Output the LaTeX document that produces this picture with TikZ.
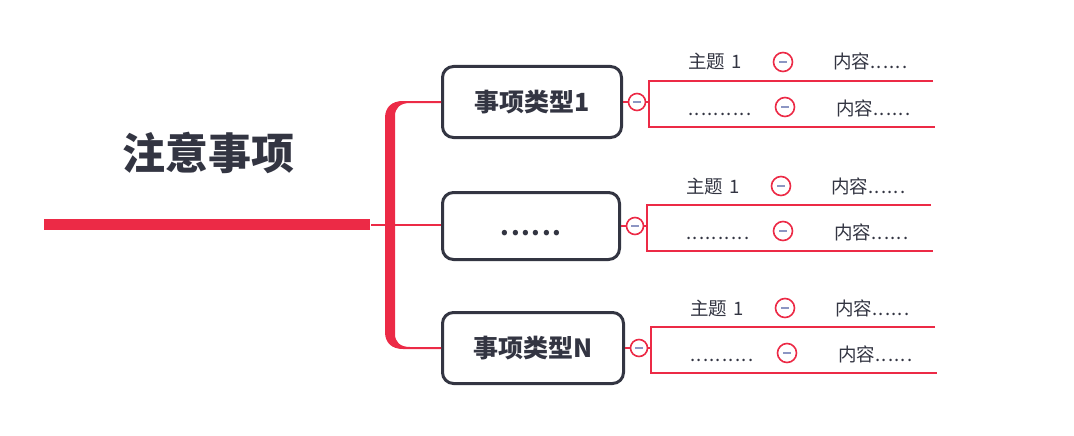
\documentclass[tikz,border=0pt]{standalone}
\usepackage{fontspec}
\newfontfamily\cjk{Noto Sans CJK SC}
\usetikzlibrary{calc}
\definecolor{mred}{RGB}{236,42,70}
\definecolor{mdark}{RGB}{51,53,66}
\definecolor{mminus}{RGB}{140,150,195}
\newcommand{\dd}{.\kern1.3pt}
\newcommand{\bd}{.\kern1.6pt}
\tikzset{
  typebox/.style={draw=mdark, line width=3pt, rounded corners=11pt, fill=white, inner sep=0pt,
    font=\cjk\bfseries\fontsize{25}{29}\selectfont, text=mdark},
  redline/.style={draw=mred, line width=1.8pt},
  coll/.style={circle, draw=mred, line width=1.6pt, fill=white, minimum size=#1, inner sep=0pt,
    path picture={\draw[mminus, line width=2pt] ([xshift=-4pt]path picture bounding box.center) -- ([xshift=4pt]path picture bounding box.center);}},
  coll/.default=17pt,
  subtxt/.style={anchor=base west, inner sep=0pt, text=mdark, font=\cjk\fontsize{18.5}{20}\selectfont},
}
\begin{document}
\begin{tikzpicture}[x=1pt,y=-1pt]
\useasboundingbox (0,0) rectangle (1074,436);
% root
\node[text=mdark, font=\cjk\bfseries\fontsize{43}{48}\selectfont, inner sep=0pt] (title) at (208,153) {注意事项};
\node[fill=mred, minimum width=326pt, minimum height=11pt, inner sep=0pt] (rootbar) at (207,224) {};
% type boxes
\node[typebox, minimum width=179pt, minimum height=71pt] (b1) at (532,102) {事项类型1};
\node[typebox, minimum width=177pt, minimum height=67pt] (b2) at (531,226) {\smash{\raisebox{-9pt}{\bd\bd\bd\bd\bd.}}};
\node[typebox, minimum width=181pt, minimum height=71pt] (b3) at (533,348) {事项类型N};
% connector root -> middle box
\coordinate (rj) at (371,225);
\draw[redline] (rj) -- (b2.west |- rj);
% bracket
\fill[mred] ($(b1.west)+(0,-1)$) -- (403,101) .. controls (392,101) and (385,107) .. (385,118)
  -- (385,332) .. controls (385,343) and (392,349) .. (403,349)
  -- ($(b3.west)+(0,1)$) -- ($(b3.west)+(0,-1)$) -- (410,347)
  .. controls (400,347) and (395,342) .. (395,334) -- (395,116)
  .. controls (395,108) and (400,103) .. (410,103) -- ($(b1.west)+(0,1)$) -- cycle;
% groups
\foreach \i/\R/\cy in {1/623/102, 2/621/226, 3/625/348}{
  \node[coll] (c\i) at (\R+14,\cy) {};
  \draw[redline] (b\i.east) -- (c\i);
  \coordinate (v\i) at (\R+26,\cy);
  \coordinate (t\i) at (\R+26,\cy-21);
  \coordinate (u\i) at (\R+26,\cy+25);
  \coordinate (te\i) at (\R+310,\cy-21);
  \coordinate (ue\i) at (\R+312,\cy+25);
  \draw[redline] (c\i) -- (v\i);
  \draw[redline] (te\i) -- (t\i) -- (u\i) -- (ue\i);
  \node[subtxt] (s\i) at (\R+65,\cy-33) {主题\kern6pt 1};
  \node[coll=19pt] (sc\i) at (\R+160,\cy-40) {};
  \node[subtxt] (k\i) at (\R+210,\cy-33) {内容\dd\dd\dd\dd\dd.};
  \node[subtxt] (r\i) at (\R+65,\cy+13) {\dd\dd\dd\dd\dd\dd\dd\dd\dd.};
  \node[coll=19pt] (rc\i) at (\R+162,\cy+5) {};
  \node[subtxt] (q\i) at (\R+213,\cy+13) {内容\dd\dd\dd\dd\dd.};
}
\end{tikzpicture}
\end{document}
